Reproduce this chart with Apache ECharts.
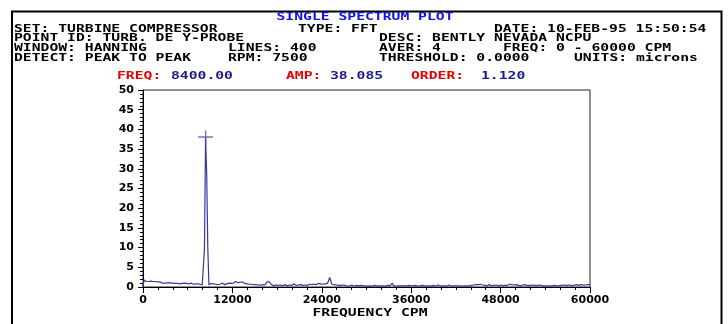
<!DOCTYPE html>
<html>
<head>
<meta charset="utf-8">
<script src="https://cdn.jsdelivr.net/npm/echarts@6/dist/echarts.min.js"></script>
<style>
  html, body { margin: 0; padding: 0; background: #fff; }
  #spectrum { width: 728px; height: 324px; }
</style>
</head>
<body>
<div id="spectrum"></div>
<script>
let chart_dom = document.getElementById("spectrum");
let chart = echarts.init(chart_dom);
//----------------------Data----------------------
// one amplitude per spectrum line, 150 CPM apart, 0 - 60000 CPM
let line_spacing = 150;
let amp_microns = [
    0.1, 1.8, 1.5, 1.4, 1.5, 1.4, 1.4, 1.5, 1.4, 1.4, 1.3, 1.4, 1.4, 1.3, 1.4, 1.3, 1.1, 1.0, 1.1, 1.0,
    1.1, 1.0, 0.9, 1.1, 1.0, 1.0, 0.9, 1.0, 1.1, 0.9, 1.0, 0.9, 1.0, 0.8, 1.0, 0.9, 0.9, 1.0, 0.8, 0.9,
    0.9, 0.8, 0.9, 1.0, 0.8, 0.7, 0.9, 0.8, 0.7, 0.8, 0.6, 0.7, 0.6, 0.5, 0.6, 9.8, 38.1, 28.5, 9.8, 0.6,
    0.7, 0.9, 0.6, 0.8, 1.0, 0.7, 0.8, 0.6, 0.9, 0.7, 0.8, 1.0, 0.7, 0.6, 0.9, 0.8, 0.7, 1.0, 0.8, 0.9,
    0.9, 1.0, 1.2, 1.4, 1.3, 1.1, 1.4, 1.2, 1.0, 1.3, 1.1, 0.9, 1.0, 0.8, 0.9, 0.7, 0.6, 0.7, 0.5, 0.6,
    0.5, 0.6, 0.4, 0.5, 0.6, 0.5, 0.4, 0.6, 0.5, 0.5, 0.7, 1.3, 1.4, 1.3, 1.4, 0.6, 0.4, 0.3, 0.4, 0.5,
    0.3, 0.4, 0.3, 0.5, 0.4, 0.3, 0.4, 0.6, 0.4, 0.3, 0.4, 0.5, 0.3, 0.4, 0.6, 0.8, 0.5, 0.4, 0.3, 0.5,
    0.4, 0.6, 0.5, 0.4, 0.7, 0.5, 0.6, 0.4, 0.5, 0.7, 1.1, 0.6, 0.5, 0.7, 0.8, 0.6, 0.7, 0.9, 0.6, 0.8,
    0.9, 0.7, 1.0, 0.8, 0.6, 0.9, 1.5, 2.4, 1.6, 0.7, 0.5, 0.6, 0.4, 0.5, 0.3, 0.4, 0.3, 0.4, 0.3, 0.5,
    0.3, 0.4, 0.3, 0.2, 0.4, 0.3, 0.3, 0.5, 0.3, 0.2, 0.3, 0.4, 0.3, 0.3, 0.2, 0.4, 0.3, 0.3, 0.6, 0.3,
    0.3, 0.2, 0.4, 0.3, 0.3, 0.2, 0.3, 0.4, 0.3, 0.3, 0.5, 0.3, 0.2, 0.3, 0.4, 0.3, 0.3, 0.2, 0.3, 0.4,
    0.3, 0.3, 0.5, 1.0, 0.4, 0.3, 0.2, 0.3, 0.3, 0.4, 0.3, 0.2, 0.3, 0.4, 0.3, 0.2, 0.3, 0.3, 0.4, 0.3,
    0.3, 0.2, 0.3, 0.3, 0.4, 0.3, 0.2, 0.3, 0.3, 0.2, 0.4, 0.3, 0.3, 0.2, 0.3, 0.4, 0.3, 0.2, 0.3, 0.3,
    0.4, 0.3, 0.2, 0.3, 0.5, 0.3, 0.3, 0.2, 0.3, 0.4, 0.3, 0.3, 0.2, 0.3, 0.5, 0.3, 0.2, 0.3, 0.3, 0.4,
    0.3, 0.2, 0.3, 0.4, 0.3, 0.3, 0.2, 0.3, 0.3, 0.4, 0.3, 0.2, 0.3, 0.3, 0.4, 0.3, 0.5, 0.4, 0.6, 0.4,
    0.6, 0.5, 0.7, 0.4, 0.5, 0.3, 0.4, 0.5, 0.3, 0.4, 0.6, 0.4, 0.3, 0.5, 0.4, 0.3, 0.5, 0.4, 0.3, 0.4,
    0.5, 0.4, 0.3, 0.5, 0.4, 0.6, 0.4, 0.5, 0.7, 0.5, 0.6, 0.8, 0.5, 0.4, 0.6, 0.5, 0.4, 0.5, 0.3, 0.4,
    0.5, 0.4, 0.6, 0.4, 0.3, 0.5, 0.4, 0.6, 0.4, 0.3, 0.5, 0.4, 0.3, 0.4, 0.5, 0.3, 0.4, 0.5, 0.3, 0.4,
    0.3, 0.4, 0.3, 0.5, 0.3, 0.4, 0.3, 0.3, 0.4, 0.5, 0.3, 0.4, 0.3, 0.3, 0.4, 0.3, 0.5, 0.3, 0.4, 0.3,
    0.4, 0.3, 0.5, 0.4, 0.3, 0.4, 0.5, 0.4, 0.6, 0.5, 0.4, 0.5, 0.6, 0.4, 0.5, 0.6, 0.5, 0.4, 0.6, 0.5,
    0.6
];
// cursor readout
let cursor_freq = 8400.00;
let cursor_amp = 38.085;
let cursor_order = 1.120;
// header lines: [text, left x, center y]
let header_black = [
    ["SET: TURBINE COMPRESSOR", 14, 29],
    ["TYPE: FFT", 298, 29],
    ["DATE: 10-FEB-95 15:50:54", 494, 29],
    ["POINT ID: TURB. DE Y-PROBE", 14, 38.5],
    ["DESC: BENTLY NEVADA NCPU", 379, 38.5],
    ["WINDOW: HANNING", 14, 48.5],
    ["LINES: 400", 228, 48.5],
    ["AVER: 4", 379, 48.5],
    ["FREQ: 0 - 60000 CPM", 503, 48.5],
    ["DETECT: PEAK TO PEAK", 14, 58.5],
    ["RPM: 7500", 228, 58.5],
    ["THRESHOLD: 0.0000", 379, 58.5],
    ["UNITS: microns", 574, 58.5]
];
let readout_labels = [["FREQ:", 117], ["AMP:", 286], ["ORDER:", 411]];
let readout_values = [[cursor_freq.toFixed(2), 171], [cursor_amp.toFixed(3), 330], [cursor_order.toFixed(3), 481]];
//--------------------Style--------------------
let mono_font = 'bold 10px "DejaVu Sans Mono"';
let mono_scale = 1.47;
let axis_font = "DejaVu Sans";
let trace_color = "#3838a0";
let red_text = "#e80000";
let blue_text = "#1a1a8c";

function header_text(txt, x, y, color, align) {
    return {
        type: "text",
        x: x, y: y,
        scaleX: mono_scale,
        style: {
            text: txt,
            font: mono_font,
            fill: color,
            align: align || "left",
            verticalAlign: "middle"
        },
        silent: true
    };
}

let graphics = [
    {
        type: "rect",
        shape: {x: 12, y: 11.5, width: 709.5, height: 330},
        style: {fill: null, stroke: "#000", lineWidth: 2}
    },
    header_text("SINGLE SPECTRUM PLOT", 365, 17.5, "#1010e8", "center"),
    header_text("FREQUENCY CPM", 370, 313.5, "#000", "center")
];
header_black.forEach(function (h) { graphics.push(header_text(h[0], h[1], h[2], "#000")); });
readout_labels.forEach(function (h) { graphics.push(header_text(h[0], h[1], 76.5, red_text)); });
readout_values.forEach(function (h) { graphics.push(header_text(h[0], h[1], 76.5, blue_text)); });
//---------------------Series---------------------
let spectrum_data = amp_microns.map(function (a, i) { return [i * line_spacing, a]; });

let spectrum_series = {
    type: "line",
    name: "spectrum",
    data: spectrum_data,
    showSymbol: false,
    symbol: "none",
    lineStyle: {color: trace_color, width: 1.2},
    z: 5
};
let cursor_series = {
    type: "scatter",
    name: "cursor",
    data: [[cursor_freq, cursor_amp]],
    symbol: "path://M-7.5,-0.7 H7.5 V0.7 H-7.5 Z M-0.7,-6.5 H0.7 V6.5 H-0.7 Z",
    symbolSize: [15, 13],
    itemStyle: {color: "#5050b0"},
    z: 6
};
//------------------Generate Graph------------------
let option = {
    backgroundColor: "#fff",
    animation: false,
    graphic: graphics,
    grid: {
        left: 143, right: 138, top: 90, bottom: 37,
        show: true, borderColor: "#222", borderWidth: 1
    },
    xAxis: {
        type: "value",
        min: 0, max: 60000, interval: 12000,
        axisLine: {lineStyle: {color: "#000", width: 1}},
        axisTick: {length: 6, lineStyle: {color: "#000"}},
        minorTick: {show: true, splitNumber: 6, length: 3, lineStyle: {color: "#000"}},
        splitLine: {show: false},
        axisLabel: {
            margin: 8, color: "#000",
            fontFamily: axis_font, fontWeight: "bold", fontSize: 11,
            formatter: function (v) { return String(v); }
        }
    },
    yAxis: {
        type: "value",
        min: 0, max: 50, interval: 5,
        axisLine: {show: true, lineStyle: {color: "#000", width: 1}},
        axisTick: {show: true, length: 5, lineStyle: {color: "#000"}},
        minorTick: {show: true, splitNumber: 5, length: 3, lineStyle: {color: "#000"}},
        splitLine: {show: false},
        axisLabel: {
            margin: 9, color: "#000",
            fontFamily: axis_font, fontWeight: "bold", fontSize: 11
        }
    },
    series: [spectrum_series, cursor_series]
};
chart.setOption(option, true);
</script>
</body>
</html>
